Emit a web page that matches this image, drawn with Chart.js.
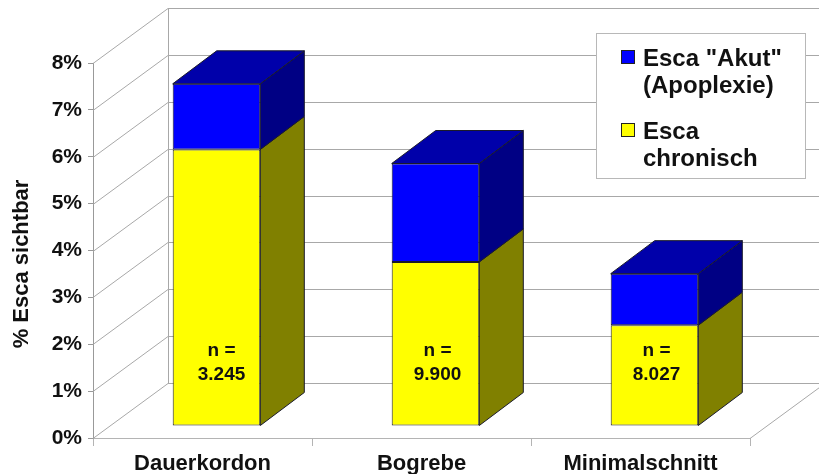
<!DOCTYPE html>
<html>
<head>
<meta charset="utf-8">
<script src="https://cdn.jsdelivr.net/npm/chart.js@4.4.1/dist/chart.umd.min.js"></script>
<style>
  html, body { margin: 0; padding: 0; background: #fff; }
  #wrap { width: 819px; height: 474px; }
</style>
</head>
<body>
<div id="wrap"><canvas id="escaChart"></canvas></div>
<script>
// Daten
const categories = ["Dauerkordon", "Bogrebe", "Minimalschnitt"];
const chronisch = [5.9, 3.5, 2.15];
const akut = [1.4, 2.1, 1.1];
const nLabels = ["3.245", "9.900", "8.027"];
const yTickLabels = ["0%", "1%", "2%", "3%", "4%", "5%", "6%", "7%", "8%"];
const legendAkut = ['Esca "Akut"', "(Apoplexie)"];
const legendChron = ["Esca", "chronisch"];

const FONT = "'Liberation Sans', Arial, sans-serif";

// 3D-Geometrie (Pixel-Versatz)
const FLOOR = { dx: 75, dy: -55 };   // Tiefe der Wände
const BAR_OFF = { dx: 14, dy: -12 }; // Säulen-Vorderseite
const BAR_D = { dx: 44, dy: -33 };   // Säulentiefe

const colors = {
  yellow: "#ffff00", yellowSide: "#808000",
  blue: "#0000ff", blueSide: "#000084", blueTop: "#0000aa",
  wall: "#a8a8a8", edge: "#1a1a2a",
};

function poly(ctx, pts, fill) {
  ctx.beginPath();
  ctx.moveTo(pts[0][0], pts[0][1]);
  for (let i = 1; i < pts.length; i++) ctx.lineTo(pts[i][0], pts[i][1]);
  ctx.closePath();
  ctx.fillStyle = fill;
  ctx.fill();
  ctx.lineWidth = 1;
  ctx.strokeStyle = colors.edge;
  ctx.stroke();
}

const threeD = {
  id: "threeD",
  beforeDatasetsDraw(chart) {
    const { ctx, chartArea: a, scales: { y } } = chart;
    const W = chart.width;
    ctx.save();
    ctx.lineWidth = 1;
    ctx.strokeStyle = colors.wall;
    // Rückwand + Seitenwand
    for (let v = 0; v <= 8; v++) {
      const py = Math.round(y.getPixelForValue(v)) + 0.5;
      ctx.beginPath();
      ctx.moveTo(a.left, py);
      ctx.lineTo(a.left + FLOOR.dx, py + FLOOR.dy);
      ctx.lineTo(W + 10, py + FLOOR.dy);
      ctx.stroke();
    }
    const bx = a.left + FLOOR.dx + 0.5;
    ctx.beginPath();
    ctx.moveTo(bx, y.getPixelForValue(8) + FLOOR.dy);
    ctx.lineTo(bx, y.getPixelForValue(0) + FLOOR.dy);
    ctx.stroke();
    // Boden rechts
    const by = Math.round(y.getPixelForValue(0)) + 0.5;
    ctx.beginPath();
    ctx.moveTo(a.right, by);
    ctx.lineTo(a.right + FLOOR.dx, by + FLOOR.dy);
    ctx.stroke();
    ctx.restore();

    ctx.save();
    ctx.translate(BAR_OFF.dx, BAR_OFF.dy);
  },
  afterDatasetsDraw(chart) {
    const { ctx } = chart;
    const top = chart.data.datasets.length - 1;
    chart.data.datasets.forEach((ds, di) => {
      const meta = chart.getDatasetMeta(di);
      meta.data.forEach((el) => {
        const r = el.x + el.width / 2;
        const l = el.x - el.width / 2;
        poly(ctx, [[r, el.y], [r + BAR_D.dx, el.y + BAR_D.dy],
          [r + BAR_D.dx, el.base + BAR_D.dy], [r, el.base]], ds.sideColor);
        if (di === top) {
          poly(ctx, [[l, el.y], [l + BAR_D.dx, el.y + BAR_D.dy],
            [r + BAR_D.dx, el.y + BAR_D.dy], [r, el.y]], ds.topColor);
        }
      });
    });
    ctx.restore();

    // n = ... Beschriftung
    const a = chart.chartArea;
    const meta0 = chart.getDatasetMeta(0);
    ctx.save();
    ctx.fillStyle = "#111";
    ctx.font = `bold 19px ${FONT}`;
    ctx.textAlign = "center";
    ctx.textBaseline = "alphabetic";
    meta0.data.forEach((el, i) => {
      const cx = el.x + BAR_OFF.dx + (i === 0 ? 5 : 2);
      ctx.fillText("n =", cx, a.bottom - 82);
      ctx.fillText(nLabels[i], cx, a.bottom - 58);
    });
    ctx.restore();
  },
  afterDraw(chart) {
    const { ctx } = chart;
    // Achsentitel
    ctx.save();
    ctx.translate(22, 264);
    ctx.rotate(-Math.PI / 2);
    ctx.font = `bold 22px ${FONT}`;
    ctx.fillStyle = "#111";
    ctx.textAlign = "center";
    ctx.textBaseline = "middle";
    ctx.fillText("% Esca sichtbar", 0, 0);
    ctx.restore();

    // Legende
    const lx = 596, ly = 33, lw = 209, lh = 145;
    ctx.save();
    ctx.fillStyle = "#fff";
    ctx.fillRect(lx, ly, lw, lh);
    ctx.strokeStyle = "#b8b8b8";
    ctx.lineWidth = 1;
    ctx.strokeRect(lx + 0.5, ly + 0.5, lw, lh);
    const items = [
      { color: chart.data.datasets[1].backgroundColor, lines: legendAkut, y: 50 },
      { color: chart.data.datasets[0].backgroundColor, lines: legendChron, y: 123 },
    ];
    ctx.font = `bold 24px ${FONT}`;
    ctx.textAlign = "left";
    ctx.textBaseline = "alphabetic";
    items.forEach((it) => {
      ctx.fillStyle = it.color;
      ctx.fillRect(621, it.y, 14, 14);
      ctx.strokeStyle = "#222";
      ctx.strokeRect(621.5, it.y + 0.5, 13, 13);
      ctx.fillStyle = "#111";
      it.lines.forEach((t, k) => ctx.fillText(t, 643, it.y + 16 + k * 27));
    });
    ctx.restore();
  },
};

new Chart(document.getElementById("escaChart"), {
  type: "bar",
  data: {
    labels: categories,
    datasets: [
      {
        label: legendChron.join(" "),
        data: chronisch,
        backgroundColor: colors.yellow,
        sideColor: colors.yellowSide,
        topColor: colors.yellow,
        borderColor: colors.edge,
        borderWidth: 1,
        borderSkipped: false,
        clip: false,
      },
      {
        label: legendAkut.join(" "),
        data: akut,
        backgroundColor: colors.blue,
        sideColor: colors.blueSide,
        topColor: colors.blueTop,
        borderColor: colors.edge,
        borderWidth: 1,
        borderSkipped: false,
        clip: false,
      },
    ],
  },
  options: {
    responsive: true,
    maintainAspectRatio: false,
    animation: false,
    layout: { padding: { top: 63, right: 69, left: 0, bottom: 0 } },
    datasets: { bar: { categoryPercentage: 1, barPercentage: 0.4 } },
    plugins: { legend: { display: false }, tooltip: { enabled: false } },
    scales: {
      x: {
        stacked: true,
        offset: true,
        grid: { offset: true, drawOnChartArea: false, drawTicks: true, tickLength: 8, color: "#b4b4b4" },
        border: { display: true, color: "#b4b4b4" },
        ticks: {
          font: { family: FONT, size: 22, weight: "bold" },
          color: "#111",
          padding: 5,
          maxRotation: 0,
          autoSkip: false,
        },
        afterFit: (s) => { s.height = 36; },
      },
      y: {
        stacked: true,
        min: 0,
        max: 8,
        grid: { drawOnChartArea: false, drawTicks: true, tickLength: 5, color: "#999" },
        border: { display: true, color: "#999" },
        ticks: {
          stepSize: 1,
          font: { family: FONT, size: 21, weight: "bold" },
          color: "#111",
          padding: 6,
          callback: (v, i) => yTickLabels[i],
        },
        afterFit: (s) => { s.width = 93; },
      },
    },
  },
  plugins: [threeD],
});
</script>
</body>
</html>
